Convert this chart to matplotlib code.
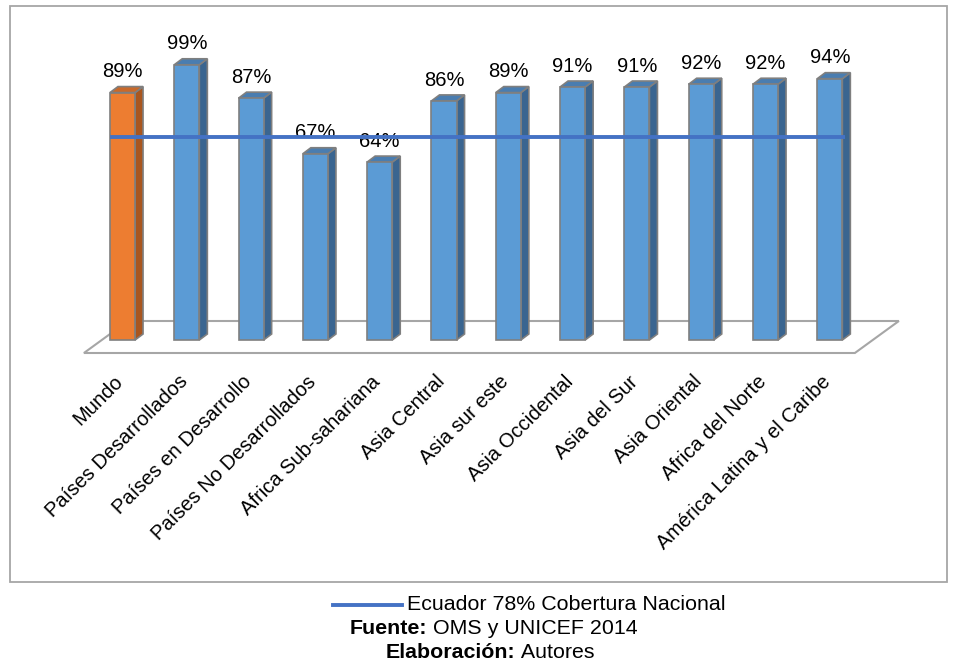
import matplotlib
matplotlib.use("Agg")
import matplotlib.pyplot as plt
from matplotlib.patches import Polygon, Rectangle
from matplotlib.lines import Line2D

plt.rcParams['font.family'] = ['Liberation Sans', 'DejaVu Sans']

# data
regions = ["Mundo", "Países Desarrollados", "Países en Desarrollo",
           "Países No Desarrollados", "Africa Sub-sahariana", "Asia Central",
           "Asia sur este", "Asia Occidental", "Asia del Sur", "Asia Oriental",
           "Africa del Norte", "América Latina y el Caribe"]
coverage = [89, 99, 87, 67, 64, 86, 89, 91, 91, 92, 92, 94]
line_level = 73   # where the Ecuador line is drawn in the picture
legend_text = "Ecuador 78% Cobertura Nacional"

W, H = 957, 664
X0, STEP = 122.5, 64.3      # px of first bar centre, px per category
BASE, PPP = 340, 2.78       # px of bar base, px per percent
FS = 14.5

fig = plt.figure(figsize=(W / 100, H / 100), dpi=100)
ax = fig.add_axes([0, 0, 1, 1])
ax.set_xlim(-X0 / STEP, (W - X0) / STEP)
ax.set_ylim((BASE - H) / PPP, BASE / PPP)
ax.axis("off")

# outer frame
fig.patches.append(Rectangle((10 / W, (H - 582) / H), 937 / W, 576 / H,
                             transform=fig.transFigure, fill=False,
                             edgecolor="#a6a6a6", linewidth=1.3))

n = len(regions)
bw = 0.39
ddx, ddy = 8 / STEP, 6 / PPP          # bar depth
fdx, fdy = 44 / STEP, 32 / PPP        # floor depth
f0 = -13 / PPP

floor = Polygon([(-0.6, f0), (n - 0.61, f0), (n - 0.61 + fdx, f0 + fdy),
                 (-0.6 + fdx, f0 + fdy)], closed=True, facecolor="white",
                edgecolor="#a6a6a6", linewidth=1.5, zorder=1)
ax.add_patch(floor)

for i, (name, v) in enumerate(zip(regions, coverage)):
    if i == 0:
        front, side, top = "#ED7D31", "#A9561F", "#C9692A"
    else:
        front, side, top = "#5B9BD5", "#3A6590", "#4A7DB0"
    l, r = i - bw / 2, i + bw / 2
    ax.add_patch(Polygon([(r, 0), (r + ddx, ddy), (r + ddx, v + ddy), (r, v)],
                         facecolor=side, edgecolor="#7f7f7f", lw=1.2, zorder=3))
    ax.add_patch(Polygon([(l, v), (r, v), (r + ddx, v + ddy), (l + ddx, v + ddy)],
                         facecolor=top, edgecolor="#7f7f7f", lw=1.2, zorder=3))
    ax.add_patch(Rectangle((l, 0), bw, v, facecolor=front,
                           edgecolor="#7f7f7f", lw=1.2, zorder=4))
    ax.text(i, v + 7.5, f"{v}%", ha="center", va="center", fontsize=FS,
            color="black", zorder=5)
    ax.text(i - 9 / STEP, -32 / PPP, name, rotation=45, ha="right", va="top",
            rotation_mode="anchor", fontsize=FS, color="black", zorder=5)

ax.plot([-0.19, n - 1 + 0.24], [line_level, line_level], color="#4472C4",
        lw=2.8, zorder=6, solid_capstyle="butt")

# legend and source notes under the frame
fig.lines.append(Line2D([333 / W, 402 / W], [(H - 605) / H] * 2,
                        transform=fig.transFigure, color="#4472C4", lw=2.8))
fig.text(407 / W, (H - 604) / H, legend_text, ha="left", va="center",
         fontsize=15.4)

renderer = fig.canvas.get_renderer()


def note(bold, rest, cx, y):
    a = fig.text(0, y, bold, fontsize=15.4, fontweight="bold", va="center")
    b = fig.text(0, y, rest, fontsize=15.4, va="center")
    wa = a.get_window_extent(renderer).width
    wb = b.get_window_extent(renderer).width
    x = cx - (wa + wb) / 2
    a.set_x(x / W)
    b.set_x((x + wa) / W)


note("Fuente:", " OMS y UNICEF 2014", 494, (H - 629) / H)
note("Elaboración:", " Autores", 490, (H - 652) / H)

fig.savefig("out.png", dpi=100)
